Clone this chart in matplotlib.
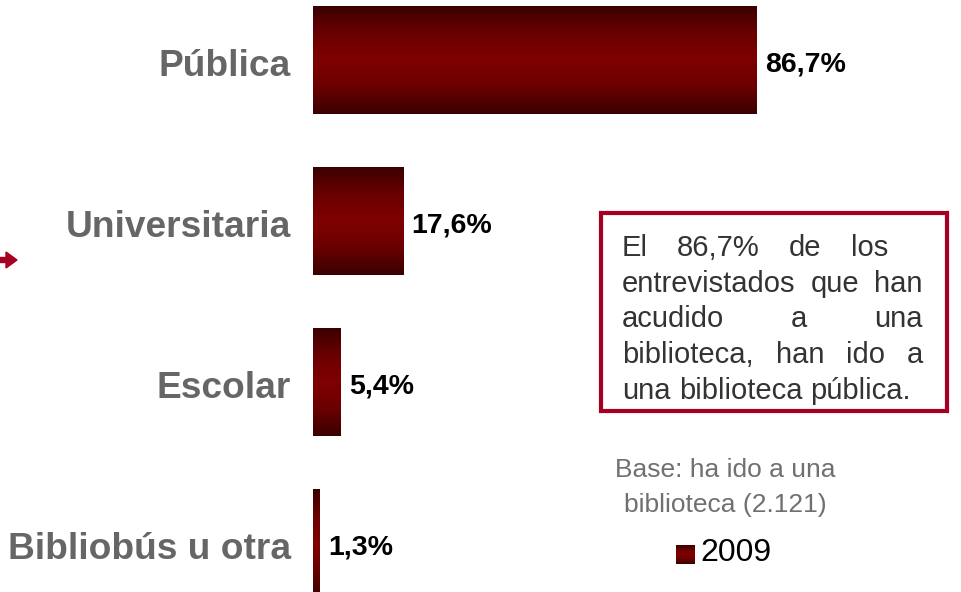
import numpy as np
import matplotlib
matplotlib.use('Agg')
import matplotlib.pyplot as plt
from matplotlib.colors import LinearSegmentedColormap
from matplotlib.patches import Rectangle, FancyArrow
from matplotlib.transforms import IdentityTransform

plt.rcParams['font.family'] = ['Liberation Sans', 'DejaVu Sans']

#%% datos
categorias = ['Pública', 'Universitaria', 'Escolar', 'Bibliobús u otra']
valores = [86.7, 17.6, 5.4, 1.3]
etiquetas = ['86,7%', '17,6%', '5,4%', '1,3%']
nota = ['El 86,7% de los',
        'entrevistados que han',
        'acudido a una',
        'biblioteca, han ido a',
        'una biblioteca pública.']
base = ['Base: ha ido a una', 'biblioteca (2.121)']
serie = '2009'

#%% figura
W, H = 961, 592
fig = plt.figure(figsize=(W / 100, H / 100), dpi=100)
ax = fig.add_axes([0, 0, 1, 1])
ax.axis('off')

px = 5.12      # pixeles por punto porcentual
x0 = 313       # pixel donde empieza la barra
paso = 161     # pixeles entre barras
y0 = 60        # centro de la primera barra

cmap = LinearSegmentedColormap.from_list('rojo', ['#3a0000', '#6a0000', '#800000', '#6a0000', '#3a0000'])
grad = np.linspace(0, 1, 256).reshape(-1, 1)

y = np.arange(len(valores))
barras = ax.barh(y, valores, height=0.67, color='none', edgecolor='none')
for b in barras:
    bx, by, bw, bh = b.get_x(), b.get_y(), b.get_width(), b.get_height()
    ax.imshow(grad, cmap=cmap, extent=(bx, bx + bw, by + bh, by), aspect='auto',
              interpolation='bilinear', zorder=2)

ax.set_xlim(-x0 / px, (W - x0) / px)
ax.set_ylim((H - y0) / paso, -y0 / paso)

for i, (cat, v, lab) in enumerate(zip(categorias, valores, etiquetas)):
    ax.text(-4.3, i + 0.04, cat, ha='right', va='center', fontsize=26.7,
            fontweight='bold', color='#666666')
    ax.text(v + 1.6, i + 0.03, lab, ha='left', va='center', fontsize=20.5,
            fontweight='bold', color='black')

#%% cuadro de texto
caja = Rectangle((601 / W, 1 - 411 / H), 346 / W, 198 / H, transform=fig.transFigure,
                 fill=False, edgecolor='#a50021', linewidth=3)
fig.patches.append(caja)

izq = 622
finales = [888, 923, 923, 923, None]
fig.canvas.draw()
rend = fig.canvas.get_renderer()
for k, linea in enumerate(nota):
    yl = 1 - (248 + 35.7 * k) / H
    palabras = linea.split(' ')
    objs = [fig.text(0, yl, p, fontsize=21, color='#333333', va='center', ha='left')
            for p in palabras]
    anchos = [o.get_window_extent(rend).width for o in objs]
    if finales[k] is None:
        esp = objs[0].get_fontsize() * 0.278 * 100 / 72
    else:
        esp = (finales[k] - izq - sum(anchos)) / (len(palabras) - 1)
    xp = izq
    for o, a in zip(objs, anchos):
        o.set_x(xp / W)
        xp += a + esp

#%% base y leyenda
for k, t in enumerate(base):
    fig.text(725 / W, 1 - (470 + 35 * k) / H, t, ha='center', va='center',
             fontsize=19, color='#707070')

lax = fig.add_axes([676 / W, 1 - 564 / H, 19 / W, 19 / H])
lax.imshow(grad, cmap=cmap, aspect='auto', interpolation='bilinear')
lax.axis('off')
fig.text(700 / W, 1 - 553 / H, serie, ha='left', va='center', fontsize=23, color='black')

#%% flecha
flecha = FancyArrow(0, H - 260, 6, 0, width=5, head_width=16, head_length=11,
                    length_includes_head=False, color='#a50021', transform=IdentityTransform())
fig.patches.append(flecha)

fig.savefig('out.png', dpi=100)
